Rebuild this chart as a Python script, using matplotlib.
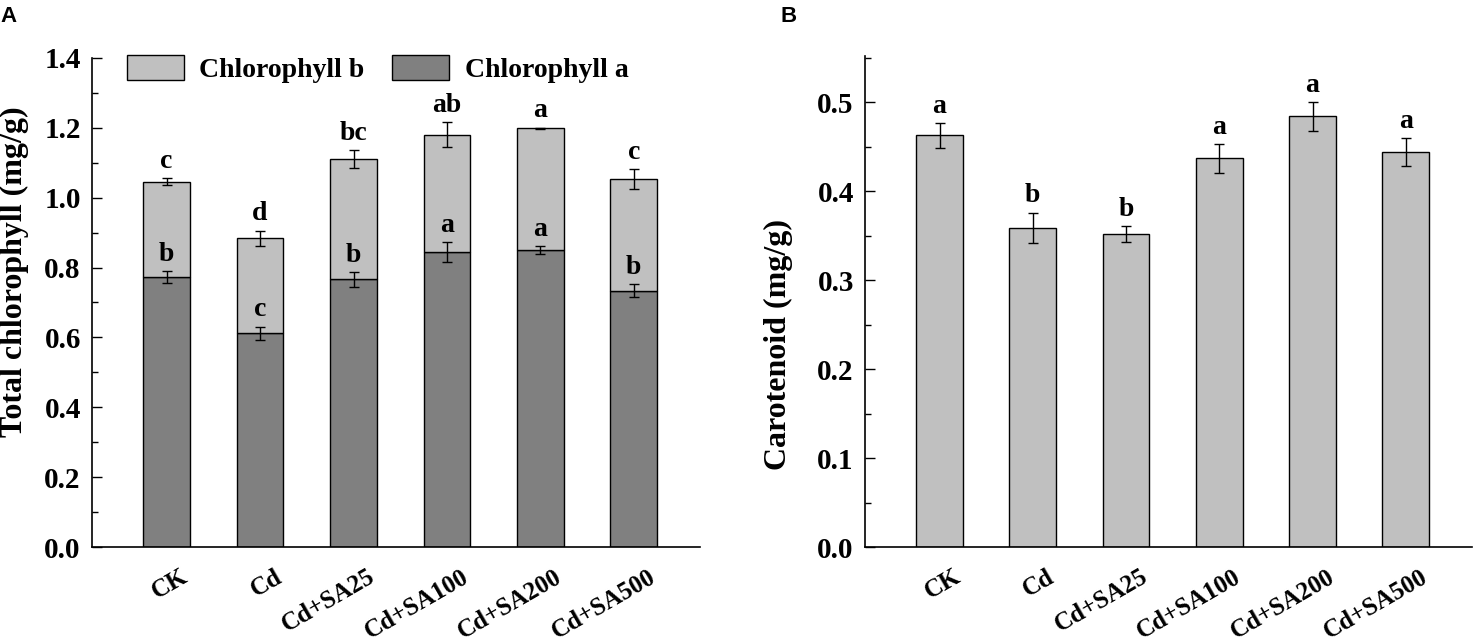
import matplotlib
matplotlib.use("Agg")
import matplotlib.pyplot as plt
import matplotlib.transforms as mtransforms
from matplotlib.ticker import MultipleLocator
import numpy as np

# Dados
tratamentos = ['CK', 'Cd', 'Cd+SA25', 'Cd+SA100', 'Cd+SA200', 'Cd+SA500']

chl_a = [0.774, 0.612, 0.766, 0.844, 0.851, 0.734]
chl_a_err = [0.017, 0.019, 0.022, 0.028, 0.011, 0.018]
chl_total = [1.046, 0.884, 1.111, 1.180, 1.199, 1.054]
chl_total_err = [0.010, 0.022, 0.026, 0.036, 0.002, 0.028]
letras_a = ['b', 'c', 'b', 'a', 'a', 'b']
letras_total = ['c', 'd', 'bc', 'ab', 'a', 'c']

carot = [0.463, 0.359, 0.352, 0.437, 0.484, 0.444]
carot_err = [0.014, 0.017, 0.009, 0.016, 0.016, 0.016]
letras_carot = ['a', 'b', 'b', 'a', 'a', 'a']

SERIF = 'Liberation Serif'
COR_CLARA = '#c0c0c0'
COR_ESCURA = '#808080'


def estilo_eixo(ax, ymax, major, minor):
    ax.set_xlim(0.2, 6.71)
    ax.set_ylim(0, ymax)
    ax.spines['top'].set_visible(False)
    ax.spines['right'].set_visible(False)
    for s in ('left', 'bottom'):
        ax.spines[s].set_linewidth(1.2)
    ax.yaxis.set_major_locator(MultipleLocator(major))
    ax.yaxis.set_minor_locator(MultipleLocator(minor))
    ax.tick_params(axis='y', which='major', direction='in', length=7, width=1, pad=8)
    ax.tick_params(axis='y', which='minor', direction='in', length=4, width=1)
    ax.tick_params(axis='x', which='both', length=0, pad=13)
    for lab in ax.get_yticklabels():
        lab.set_fontfamily(SERIF)
        lab.set_fontweight('bold')
        lab.set_fontsize(21)


def rotular_x(ax, x, fig):
    ax.set_xticks(x)
    ax.set_xticklabels(tratamentos, rotation=30, ha='right', va='top',
                       rotation_mode='anchor', fontfamily=SERIF,
                       fontweight='bold', fontsize=18)
    offset = mtransforms.ScaledTranslation(14 / 100, 0, fig.dpi_scale_trans)
    for lab in ax.get_xticklabels():
        lab.set_transform(lab.get_transform() + offset)


def letras(ax, x, valores, erros, rotulos):
    for xi, v, e, l in zip(x, valores, erros, rotulos):
        ax.annotate(l, (xi, v + e), textcoords='offset points', xytext=(0, 3),
                    ha='center', va='bottom', fontfamily=SERIF,
                    fontweight='bold', fontsize=20)


def main():
    fig = plt.figure(figsize=(14.76, 6.43), dpi=100)
    x = np.arange(1, len(tratamentos) + 1)
    largura = 0.5

    # Painel A
    axA = fig.add_axes([0.0623, 0.1493, 0.412, 0.7605])
    chl_b = [t - a for t, a in zip(chl_total, chl_a)]
    bar_a = axA.bar(x, chl_a, width=largura, color=COR_ESCURA, edgecolor='black',
                    linewidth=1, label='Chlorophyll a', zorder=2)
    bar_b = axA.bar(x, chl_b, bottom=chl_a, width=largura, color=COR_CLARA,
                    edgecolor='black', linewidth=1, label='Chlorophyll b', zorder=2)
    axA.errorbar(x, chl_a, yerr=chl_a_err, fmt='none', ecolor='black',
                 elinewidth=1, capsize=3.5, capthick=1, zorder=3)
    axA.errorbar(x, chl_total, yerr=chl_total_err, fmt='none', ecolor='black',
                 elinewidth=1, capsize=3.5, capthick=1, zorder=3)
    letras(axA, x, chl_a, chl_a_err, letras_a)
    letras(axA, x, chl_total, chl_total_err, letras_total)
    estilo_eixo(axA, 1.4, 0.2, 0.1)
    rotular_x(axA, x, fig)
    axA.set_ylabel('Total chlorophyll (mg/g)', fontfamily=SERIF,
                   fontweight='bold', fontsize=23)
    axA.yaxis.set_label_coords(-0.103, 0.562)
    axA.legend([bar_b, bar_a], ['Chlorophyll b', 'Chlorophyll a'], ncol=2,
               loc='upper left', bbox_to_anchor=(0.035, 1.035), frameon=False,
               borderpad=0, handlelength=2.05, handleheight=1.0,
               handletextpad=0.55, columnspacing=1.0,
               prop={'family': SERIF, 'weight': 'bold', 'size': 20})

    # Painel B
    axB = fig.add_axes([0.586, 0.1493, 0.4113, 0.7636])
    axB.bar(x, carot, width=largura, color=COR_CLARA, edgecolor='black',
            linewidth=1, zorder=2)
    axB.errorbar(x, carot, yerr=carot_err, fmt='none', ecolor='black',
                 elinewidth=1, capsize=3.5, capthick=1, zorder=3)
    letras(axB, x, carot, carot_err, letras_carot)
    estilo_eixo(axB, 0.552, 0.1, 0.05)
    rotular_x(axB, x, fig)
    axB.set_ylabel('Carotenoid (mg/g)', fontfamily=SERIF,
                   fontweight='bold', fontsize=23)
    axB.yaxis.set_label_coords(-0.1186, 0.412)

    fig.text(0.0, 1 - 6 / 643, 'A', family='Liberation Sans', weight='bold',
             fontsize=16, ha='left', va='top')
    fig.text(780 / 1476, 1 - 6 / 643, 'B', family='Liberation Sans', weight='bold',
             fontsize=16, ha='left', va='top')

    fig.savefig('out.png', dpi=100)


if __name__ == "__main__":
    main()
